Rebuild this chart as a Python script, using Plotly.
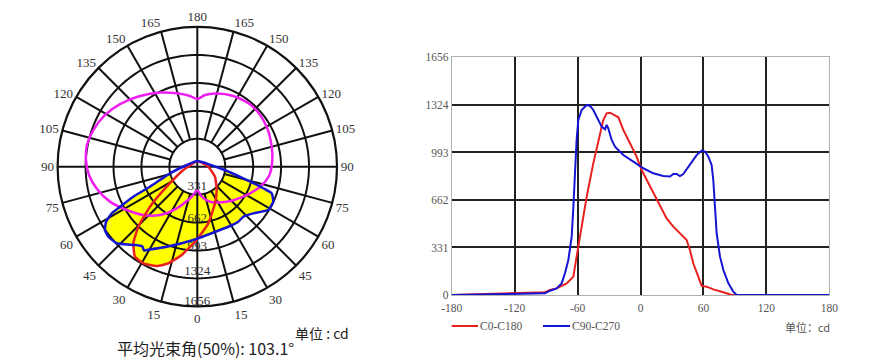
import numpy as np
import plotly.graph_objects as go

# ---------------- polar light-distribution data ----------------
ring_values = [331, 662, 993, 1324, 1656]
ring_labels = ["331", "662", "993", "1324", "1656"]
ring_label_r = [237, 612, 948, 1245, 1600]
angle_ticks = list(range(0, 360, 15))
angle_text = [str(a if a <= 180 else 360 - a) for a in angle_ticks]

# C0-C180 plane (red)
c0_theta = [180, -76.7, -56.8, -49.8, -44.5, -39.9, -34.7, -29.2, -22.2, -16.7, -10.0,
            -0.5, 11.0, 25.8, 39.8, 60.5, 90, 132, 180]
c0_r = [68, 170, 433, 734, 997, 1183, 1298, 1312, 1272, 1196, 1063,
        869, 684, 482, 359, 241, 130, 70, 68]

# C90-C270 plane (blue)
c90_theta = [180, 86.0, 75.8, 71.9, 70.3, 65.3, 58.6, 50.2, 42.6, 36.7, 28.9, 19.7, -3.1,
             -20.9, -31.3, -32.5, -34.6, -38.5, -46.5, -51.8, -55.6, -58.9, -61.4, -62.6,
             -64.9, -67.1, -76.4, -99.1, 180]
c90_r = [68, 270, 562, 823, 937, 992, 986, 864, 805, 813, 803, 797, 870,
         1016, 1156, 1177, 1147, 1186, 1318, 1342, 1327, 1263, 1155, 1032,
         838, 609, 333, 127, 68]

# third curve (magenta)
mag_theta = [0, -10.6, -26.3, -37.7, -48.2, -58.5, -68.2, -77.5, -85.6, -93.4, -101.1,
             -109.4, -119.3, -129.0, -141.0, -153.3, -164.5, -174.1, 180, 173.9, 166.4,
             153.0, 136.8, 120.0, 105.0, 92.8, 82.6, 72.3, 56.9, 40.0, 19.9, 8.3, 0]
mag_r = [282, 362, 550, 723, 859, 982, 1115, 1218, 1288, 1322, 1333,
         1307, 1254, 1180, 1079, 984, 903, 843, 802, 855, 893,
         940, 970, 949, 913, 887, 857, 780, 651, 542, 441, 359, 282]

# ---------------- line-chart data ----------------
x_ticks = [-180, -120, -60, 0, 60, 120, 180]
y_ticks = [0, 331, 662, 993, 1324, 1656]

red_x = [-180, -91.0, -86.3, -79.9, -70.4, -64.0, -60.9, -57.7, -51.3, -45.0, -38.6, -35.5,
         -32.3, -29.1, -21.1, -16.4, -10.0, -3.7, 1.1, 5.9, 12.2, 18.6, 24.9, 31.3, 37.6,
         44.0, 47.1, 50.3, 55.1, 58.3, 63.1, 69.4, 79.0, 86.9, 180]
red_y = [0, 19, 35, 46, 81, 128, 267, 406, 685, 917, 1126, 1219,
         1266, 1270, 1238, 1150, 1057, 964, 871, 801, 708, 615, 534, 476, 430,
         383, 314, 221, 128, 63, 58, 39, 19, 0, 0]

blue_x = [-180, -91.0, -86.3, -79.9, -75.2, -72.0, -68.8, -65.6, -64.0, -62.4, -60.9, -59.3,
          -56.1, -51.3, -48.1, -45.0, -41.8, -37.0, -33.8, -32.3, -30.7, -27.5, -24.3,
          -16.4, -6.8, 2.7, 12.2, 21.7, 28.1, 31.3, 34.4, 37.6, 40.8, 47.1, 53.5, 58.3,
          61.5, 64.7, 67.8, 69.4, 71.0, 72.6, 75.8, 79.0, 83.8, 88.5, 91.7, 180]
blue_y = [0, 12, 30, 46, 81, 151, 244, 406, 615, 894, 1080, 1219,
          1289, 1324, 1317, 1289, 1243, 1173, 1154, 1185, 1161, 1080, 1034,
          975, 929, 883, 848, 829, 825, 843, 843, 829, 843, 906, 975, 1006,
          999, 964, 906, 801, 615, 430, 267, 174, 81, 23, 0, 0]

# The page body has an 8px margin: size the figure so it fits the 894x364 window.
OFF = 8
W, H = 894 - OFF, 364 - OFF


def px(x):
    return (x - OFF) / W


def py(y):
    return 1 - (y - OFF) / H


YELLOW = "#ffff00"
RED = "#e8201e"
BLUE = "#1414d2"
MAGENTA = "#f01ef0"
SERIF = "Liberation Serif"

fig = go.Figure()

# yellow fills (union of both C-planes)
for th, rr in [(c0_theta, c0_r), (c90_theta, c90_r)]:
    fig.add_trace(go.Scatterpolar(theta=th, r=rr, mode="lines", fill="toself",
                                  fillcolor=YELLOW, line=dict(width=0, shape="spline", smoothing=0.4),
                                  hoverinfo="skip", subplot="polar"))

circ = np.arange(0, 361, 2)
# white centre disk
fig.add_trace(go.Scatterpolar(theta=circ, r=[ring_values[0]] * len(circ), mode="lines",
                              fill="toself", fillcolor="white", line=dict(width=0),
                              hoverinfo="skip", subplot="polar"))
# rings
ring_th, ring_r = [], []
for v in ring_values[:-1]:
    ring_th += list(circ) + [None]
    ring_r += [v] * len(circ) + [None]
fig.add_trace(go.Scatterpolar(theta=ring_th, r=ring_r, mode="lines",
                              line=dict(color="#111", width=2), hoverinfo="skip", subplot="polar"))
# spokes
sp_th, sp_r = [], []
for a in range(0, 360, 15):
    start = 0 if a % 90 == 0 else ring_values[0]
    sp_th += [a, a, None]
    sp_r += [start, ring_values[-1], None]
fig.add_trace(go.Scatterpolar(theta=sp_th, r=sp_r, mode="lines",
                              line=dict(color="#111", width=2), hoverinfo="skip", subplot="polar"))
# ring labels
fig.add_trace(go.Scatterpolar(theta=[0] * len(ring_labels), r=ring_label_r, mode="text",
                              text=ring_labels, textfont=dict(family=SERIF, size=13, color="#333"),
                              hoverinfo="skip", subplot="polar"))
# curves
fig.add_trace(go.Scatterpolar(theta=mag_theta, r=mag_r, mode="lines",
                              line=dict(color=MAGENTA, width=2.5, shape="spline", smoothing=1),
                              hoverinfo="skip", subplot="polar"))
fig.add_trace(go.Scatterpolar(theta=c0_theta, r=c0_r, mode="lines",
                              line=dict(color=RED, width=2.5, shape="spline", smoothing=0.4),
                              hoverinfo="skip", subplot="polar"))
fig.add_trace(go.Scatterpolar(theta=c90_theta, r=c90_r, mode="lines",
                              line=dict(color=BLUE, width=2.5, shape="spline", smoothing=0.4),
                              hoverinfo="skip", subplot="polar"))

# ---------------- line chart ----------------
fig.add_trace(go.Scatter(x=red_x, y=red_y, mode="lines", line=dict(color=RED, width=2),
                         name="C0-C180", xaxis="x", yaxis="y"))
fig.add_trace(go.Scatter(x=blue_x, y=blue_y, mode="lines", line=dict(color=BLUE, width=2),
                         name="C90-C270", xaxis="x", yaxis="y"))

tickfont = dict(family=SERIF, size=11.5, color="#555")
fig.update_layout(
    width=W, height=H, margin=dict(l=0, r=0, t=0, b=0, pad=0, autoexpand=False),
    paper_bgcolor="white", plot_bgcolor="white", showlegend=False,
    polar=dict(
        domain=dict(x=[px(57.6), px(337.0)], y=[py(306.4), py(27.0)]),
        bgcolor="white",
        angularaxis=dict(rotation=-90, direction="counterclockwise", tickmode="array",
                         tickvals=angle_ticks, ticktext=angle_text, showgrid=False,
                         showline=True, linecolor="#111", linewidth=2.2, ticks="",
                         tickfont=dict(family=SERIF, size=13, color="#333")),
        radialaxis=dict(range=[0, 1656], showgrid=False, showticklabels=False,
                        ticks="", showline=False),
    ),
    xaxis=dict(domain=[px(451.7), px(829.3)], range=[-180, 180], tickmode="array",
               tickvals=x_ticks, ticktext=[str(v) for v in x_ticks], showgrid=False,
               zeroline=False, showline=True, mirror=True, linecolor="#b0b0b0", linewidth=1,
               ticks="", tickfont=tickfont, automargin=False, ticklabelstandoff=2,
               minor=dict(tickmode="array", tickvals=x_ticks[1:-1], showgrid=True,
                          gridcolor="#222", gridwidth=1.5, ticks="")),
    yaxis=dict(domain=[py(295), py(57.3)], range=[0, 1656], tickmode="array",
               tickvals=y_ticks, ticktext=[str(v) for v in y_ticks], showgrid=False,
               zeroline=False, showline=True, mirror=True, linecolor="#b0b0b0", linewidth=1,
               ticks="", tickfont=tickfont, automargin=False,
               minor=dict(tickmode="array", tickvals=y_ticks[1:-1], showgrid=True,
                          gridcolor="#222", gridwidth=1.5, ticks="")),
)

# legend (drawn manually)
leg = [(451.7, 478, RED, "C0-C180"), (543, 570, BLUE, "C90-C270")]
for x0, x1, col, label in leg:
    fig.add_shape(type="line", xref="paper", yref="paper", x0=px(x0), x1=px(x1),
                  y0=py(326), y1=py(326), line=dict(color=col, width=2))
    fig.add_annotation(text=label, xref="paper", yref="paper", x=px(x1), y=py(326),
                       xanchor="left", yanchor="middle", showarrow=False,
                       font=dict(family=SERIF, size=11.5, color="#555"))

fig.add_annotation(text="单位：cd", xref="paper", yref="paper", x=px(783), y=py(327),
                   xanchor="left", yanchor="middle", showarrow=False,
                   font=dict(family="Noto Sans CJK SC", size=11, color="#555"))
fig.add_annotation(text="单位 : cd", xref="paper", yref="paper", x=px(293), y=py(333),
                   xanchor="left", yanchor="middle", showarrow=False,
                   font=dict(family="Noto Sans CJK SC", size=14, color="#222"))
fig.add_annotation(text="平均光束角(50%): 103.1°", xref="paper", yref="paper", x=px(115),
                   y=py(348), xanchor="left", yanchor="middle", showarrow=False,
                   font=dict(family="Noto Sans CJK SC", size=16, color="#222"))

fig.write_html("out.html")
